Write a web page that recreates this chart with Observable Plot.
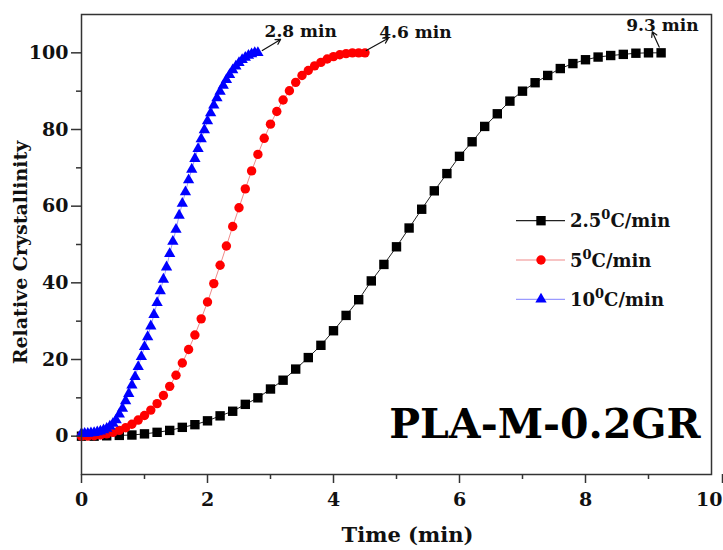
<!DOCTYPE html>
<html>
<head>
<meta charset="utf-8">
<script src="https://cdn.jsdelivr.net/npm/d3@7"></script>
<script src="https://cdn.jsdelivr.net/npm/@observablehq/plot@0.6"></script>
<style>
  html, body { margin: 0; padding: 0; background: #fff; }
  #chart { width: 723px; height: 550px; }
</style>
</head>
<body>
<div id="chart"></div>
<script>
// ---- data ----
const seriesNames = ["2.5", "5", "10"];
const seriesColors = ["#000000", "#ff0000", "#0000ff"];
const lineColors = ["#222222", "#f08a8a", "#9a9aff"];
const seriesSymbols = ["square", "circle", "triangle"];

const t25 = [0,0.2,0.4,0.6,0.8,1.0,1.2,1.4,1.6,1.8,2.0,2.2,2.4,2.6,2.8,3.0,3.2,3.4,3.6,3.8,4.0,4.2,4.4,4.6,4.8,5.0,5.2,5.4,5.6,5.8,6.0,6.2,6.4,6.6,6.8,7.0,7.2,7.4,7.6,7.8,8.0,8.2,8.4,8.6,8.8,9.0,9.2];
const v25 = [0,0,0.1,0.2,0.3,0.6,1.0,1.5,2.3,3.0,4.0,5.3,6.5,8.3,10.0,12.3,14.6,17.5,20.5,23.7,27.5,31.5,35.6,40.5,44.8,49.4,54.3,59.2,64.0,68.5,73.0,76.8,80.8,84.1,87.4,90.0,92.2,94.1,95.9,97.2,98.2,98.9,99.3,99.6,99.9,100,100];

const t5 = [0,0.1,0.2,0.3,0.4,0.5,0.6,0.7,0.8,0.9,1.0,1.1,1.2,1.3,1.4,1.5,1.6,1.7,1.8,1.9,2.0,2.1,2.2,2.3,2.4,2.5,2.6,2.7,2.8,2.9,3.0,3.1,3.2,3.3,3.4,3.5,3.6,3.7,3.8,3.9,4.0,4.1,4.2,4.3,4.4,4.5];
const v5 = [0,0,0.1,0.3,0.6,1.0,1.5,2.2,3.1,4.2,5.4,6.8,8.5,10.6,13.0,15.9,19.1,22.6,26.4,30.6,35.0,39.8,44.6,49.6,54.7,59.6,64.5,69.2,73.5,77.7,81.4,84.7,87.7,90.1,92.3,94.1,95.4,96.6,97.5,98.4,99.0,99.5,99.8,100,100,100];

const t10 = [0,0.05,0.1,0.15,0.2,0.25,0.3,0.35,0.4,0.45,0.5,0.55,0.6,0.65,0.7,0.75,0.8,0.85,0.9,0.95,1.0,1.05,1.1,1.15,1.2,1.25,1.3,1.35,1.4,1.45,1.5,1.55,1.6,1.65,1.7,1.75,1.8,1.85,1.9,1.95,2.0,2.05,2.1,2.15,2.2,2.25,2.3,2.35,2.4,2.45,2.5,2.55,2.6,2.65,2.7,2.75,2.8];
const v10 = [0.7,0.7,0.7,0.8,0.9,1.1,1.3,1.6,2.0,2.6,3.3,4.2,5.7,7.2,9.2,11.1,13.3,15.5,18.1,20.7,23.3,25.9,28.7,31.7,34.8,37.9,40.9,44.1,47.6,50.8,53.9,57.6,60.7,63.7,66.8,69.6,72.4,75.0,77.5,79.9,82.2,84.3,86.3,88.2,89.9,91.5,93.0,94.3,95.5,96.5,97.4,98.2,98.8,99.3,99.7,100,100];

const xMajorTicks = [0, 2, 4, 6, 8];
const xEdgeTicks = [10];
const xMinorTicks = [1, 3, 5, 7, 9];
const yMajorTicks = [0, 20, 40, 60, 80, 100];
const yMinorTicks = [10, 30, 50, 70, 90];

const annotLabels = ["2.8 min", "4.6 min", "9.3 min"];
const annotTextX = [3.48, 5.30, 9.22];
const annotTextY = [105.6, 105.3, 107.2];
const arrowX1 = [2.87, 4.52, 9.17];
const arrowY1 = [100.6, 100.6, 101.5];
const arrowX2 = [3.16, 4.87, 9.06];
const arrowY2 = [103.5, 103.8, 105.5];

const sampleName = "PLA-M-0.2GR";

// ---- build tables ----
const allT = [t25, t5, t10];
const allV = [v25, v5, v10];
const series = allT.map((ts, i) => ts.map((t, j) => ({t, v: allV[i][j], s: i})));
const annots = annotLabels.map((label, i) => ({
  label, tx: annotTextX[i], ty: annotTextY[i],
  x1: arrowX1[i], y1: arrowY1[i], x2: arrowX2[i], y2: arrowY2[i]
}));

const FONT = "DejaVu Serif";
const dotR = [5.3, 4.7, 4.2];

const marks = [];
series.forEach((d, i) => {
  marks.push(Plot.line(d, {x: "t", y: "v", stroke: lineColors[i], strokeWidth: 1}));
});
series.forEach((d, i) => {
  marks.push(Plot.dot(d, {x: "t", y: "v", symbol: seriesSymbols[i], fill: seriesColors[i], stroke: "none", r: dotR[i]}));
});

const axisText = {fontSize: 19, fontWeight: "bold", fontFamily: FONT};

const plot = Plot.plot({
  width: 723,
  height: 550,
  marginLeft: 81,
  marginRight: 12,
  marginTop: 14,
  marginBottom: 76,
  style: {fontFamily: FONT, fontWeight: "bold", fontSize: "19px", background: "#fff", color: "#111"},
  x: {domain: [0, 10], axis: null},
  y: {domain: [-10, 110], axis: null},
  marks: [
    ...marks,
    Plot.frame({stroke: "#333", strokeWidth: 1.5}),
    Plot.axisX({ticks: xMajorTicks, tickSize: 9, tickPadding: 9, label: null, strokeWidth: 1.5, stroke: "#333", ...axisText}),
    Plot.axisX({ticks: xEdgeTicks, tickSize: 9, tickPadding: 9, label: null, strokeWidth: 1.5, stroke: "#333", textAnchor: "end", dx: 11, ...axisText}),
    Plot.axisX({ticks: xMinorTicks, tickSize: 5, tickFormat: () => "", label: null, strokeWidth: 1.5, stroke: "#333"}),
    Plot.axisY({ticks: yMajorTicks, tickSize: 10, tickPadding: 3, label: null, strokeWidth: 1.5, stroke: "#333", ...axisText}),
    Plot.axisY({ticks: yMinorTicks, tickSize: 5, tickFormat: () => "", label: null, strokeWidth: 1.5, stroke: "#333"}),
    Plot.text(["Time (min)"], {frameAnchor: "bottom", text: d => d, dy: 61, dx: 11, lineAnchor: "middle", textAnchor: "middle", fontSize: 21, fontWeight: "bold", fontFamily: FONT, fill: "#111"}),
    Plot.text(["Relative Crystallinity"], {frameAnchor: "left", text: d => d, rotate: -90, dx: -61, dy: 8, textAnchor: "middle", lineAnchor: "middle", fontSize: 19, fontWeight: "bold", fontFamily: FONT, fill: "#111"}),
    Plot.arrow(annots, {x1: "x1", y1: "y1", x2: "x2", y2: "y2", stroke: "#111", strokeWidth: 1.2, headLength: 7}),
    Plot.text(annots, {x: "tx", y: "ty", text: "label", fontSize: 17, fontWeight: "bold", fontFamily: FONT, fill: "#111"}),
    Plot.text([sampleName], {frameAnchor: "bottom-right", text: d => d, dx: -11, dy: -37, lineAnchor: "bottom", textAnchor: "end", fontSize: 41, fontWeight: "bold", fontFamily: FONT, fill: "#000"})
  ]
});

document.getElementById("chart").appendChild(plot);

// ---- legend (inside the plot, right-middle area) ----
const svg = d3.select(plot);
const lg = svg.append("g").attr("font-family", FONT).attr("font-weight", "bold").attr("text-anchor", "start");
const rowY = [220.7, 260, 299.3];
seriesNames.forEach((name, i) => {
  const g = lg.append("g").attr("transform", `translate(0,${rowY[i]})`);
  g.append("line").attr("x1", 516).attr("x2", 565).attr("y1", 0).attr("y2", 0)
    .attr("stroke", lineColors[i]).attr("stroke-width", 1.2);
  g.append("path").attr("transform", "translate(541,0)")
    .attr("d", d3.symbol(i === 0 ? d3.symbolSquare : i === 1 ? d3.symbolCircle : d3.symbolTriangle, Math.PI * dotR[i] * dotR[i])())
    .attr("fill", seriesColors[i]);
  const tx = g.append("text").attr("x", 570).attr("y", 6.5).attr("font-size", 18).attr("fill", "#111").attr("text-anchor", "start");
  tx.append("tspan").text(name);
  tx.append("tspan").attr("dy", -8).attr("font-size", 13).text("0");
  tx.append("tspan").attr("dy", 8).text("C/min");
});
</script>
</body>
</html>
